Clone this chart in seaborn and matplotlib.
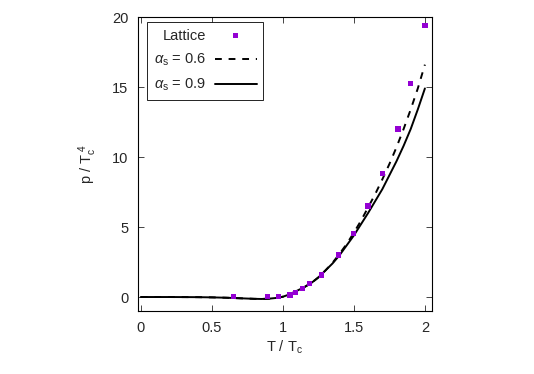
import matplotlib
matplotlib.use("Agg")
import matplotlib.pyplot as plt
import seaborn as sns
import pandas as pd

# Lattice data
lattice_T = [0.65, 0.89, 0.97, 1.05, 1.09, 1.14, 1.19, 1.27, 1.39, 1.50, 1.60, 1.70, 1.81, 1.90, 2.00]
lattice_p = [0.02, 0.02, 0.02, 0.15, 0.32, 0.62, 0.95, 1.58, 3.0, 4.55, 6.5, 8.8, 12.0, 15.25, 19.4]

# model curves, alpha_s = 0.6 (dashed) and 0.9 (solid)
curve_T = [0.0, 0.1, 0.2, 0.3, 0.4, 0.5, 0.6, 0.7, 0.8, 0.85, 0.9, 0.95,
           1.00, 1.05, 1.10, 1.15, 1.20, 1.25, 1.30, 1.35, 1.40, 1.45, 1.50,
           1.55, 1.60, 1.65, 1.70, 1.75, 1.80, 1.85, 1.90, 1.95, 2.00]
p_as06 = [0.0, 0.0, 0.0, -0.005, -0.01, -0.025, -0.05, -0.09, -0.13, -0.14, -0.12, -0.07,
          0.02, 0.2, 0.45, 0.7, 1.0, 1.4, 1.9, 2.45, 3.1, 3.8, 4.6,
          5.45, 6.4, 7.35, 8.4, 9.5, 10.7, 12.0, 13.4, 14.9, 16.6]
p_as09 = [0.0, 0.0, 0.0, -0.005, -0.01, -0.025, -0.05, -0.09, -0.13, -0.14, -0.12, -0.07,
          0.02, 0.2, 0.45, 0.7, 1.0, 1.4, 1.9, 2.4, 3.0, 3.7, 4.4,
          5.2, 6.0, 6.85, 7.7, 8.7, 9.7, 10.8, 12.0, 13.4, 14.9]

sns.set_style("ticks")
plt.rcParams["font.family"] = ["Liberation Sans", "DejaVu Sans"]
plt.rcParams["mathtext.fontset"] = "custom"
plt.rcParams["mathtext.rm"] = "Liberation Sans"
plt.rcParams["mathtext.it"] = "Liberation Sans:italic"

df_lat = pd.DataFrame({"T": lattice_T, "p": lattice_p})
df_06 = pd.DataFrame({"T": curve_T, "p": p_as06})
df_09 = pd.DataFrame({"T": curve_T, "p": p_as09})

fig = plt.figure(figsize=(5.34, 3.74), dpi=100)
ax = fig.add_axes([0.2584, 0.1684, 0.5506, 0.786])

sns.scatterplot(data=df_lat, x="T", y="p", ax=ax, marker="s", s=14,
                color="#9400D3", edgecolor="none", label="Lattice", zorder=3)
sns.lineplot(data=df_06, x="T", y="p", ax=ax, color="black", lw=1.4,
             label=r"$\alpha_\mathrm{s}$ = 0.6")
ax.lines[-1].set_linestyle((0, (3.5, 3.5)))
sns.lineplot(data=df_09, x="T", y="p", ax=ax, color="black", lw=1.4,
             label=r"$\alpha_\mathrm{s}$ = 0.9")

ax.set_xlim(-0.02, 2.05)
ax.set_ylim(-1, 20)
ax.set_xticks([0, 0.5, 1, 1.5, 2])
ax.set_xticklabels(["0", "0.5", "1", "1.5", "2"])
ax.set_yticks([0, 5, 10, 15, 20])
ax.tick_params(direction="in", length=4, width=0.6, labelsize=10.5,
               top=True, right=True, pad=7)
for s in ax.spines.values():
    s.set_linewidth(0.8)
    s.set_color("black")

ax.set_xlabel(r"T / T$_\mathrm{c}$", fontsize=10.5, labelpad=3)
ax.set_ylabel(r"p / T$_\mathrm{c}^{\ 4}$", fontsize=10.5, labelpad=9)

leg = ax.legend(loc="upper left", bbox_to_anchor=(147 / 534, 1 - 22 / 374),
                bbox_transform=fig.transFigure, borderaxespad=0,
                markerfirst=False, fancybox=False, edgecolor="black",
                framealpha=1, fontsize=10.5, handlelength=2.9,
                handletextpad=0.6, labelspacing=0.62, scatterpoints=1,
                borderpad=0.45)
leg.get_frame().set_linewidth(0.6)

fig.savefig("out.png", dpi=100)
